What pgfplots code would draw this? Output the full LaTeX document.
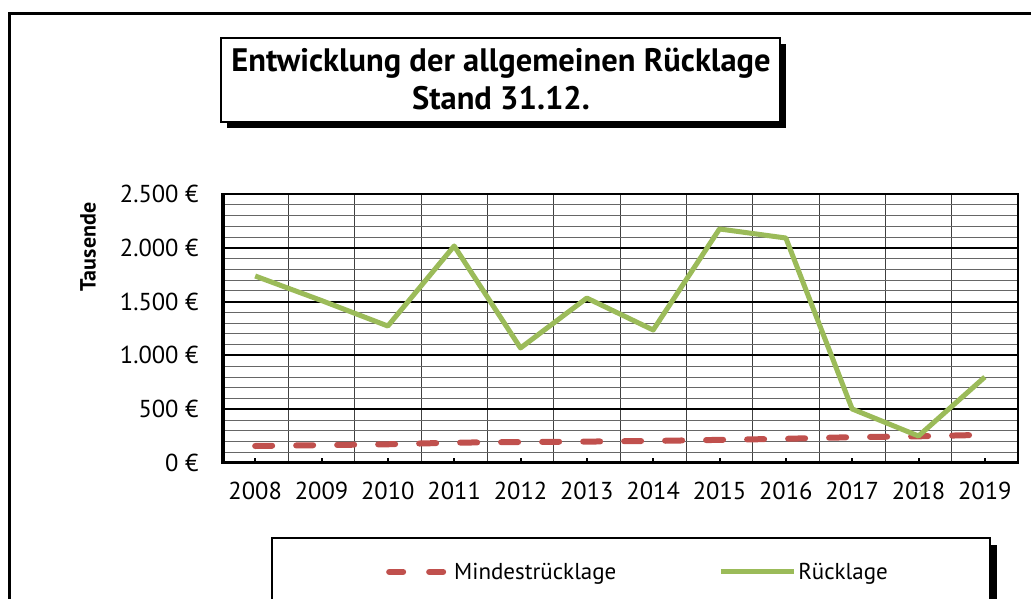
\documentclass[border=0pt]{standalone}
\usepackage{fontspec}
\setmainfont{PT Sans}
\usepackage{pgfplots}
\pgfplotsset{compat=1.18}
\definecolor{gruen}{RGB}{155,187,89}
\definecolor{rot}{RGB}{192,80,77}
\pgfplotsset{
  redleg/.style={legend image code/.code={\draw[##1, dash pattern=on 14pt off 26pt] (0pt,0pt) -- (60pt,0pt);}},
  greenleg/.style={legend image code/.code={\draw[##1] (0pt,0pt) -- (73pt,0pt);}},
}

\begin{document}
\begin{tikzpicture}
\path[use as bounding box, clip] (0pt,0pt) rectangle (1031pt,-599pt);
% outer frame
\draw[line width=3pt] (9pt,-700pt) -- (9pt,-14pt) -- (1100pt,-14pt);
% title box with shadow
\fill[black] (227pt,-44pt) rectangle (786pt,-128pt);
\draw[line width=1.5pt, fill=white] (221pt,-38pt) rectangle (780pt,-122pt);
\node[align=center, font=\bfseries\fontsize{32.5}{38}\selectfont] at (501pt,-79pt) {Entwicklung der allgemeinen Rücklage\\Stand 31.12.};
% legend box with shadow
\fill[black] (278pt,-545pt) rectangle (997pt,-700pt);
\draw[line width=1.5pt, fill=white] (272pt,-538pt) rectangle (990pt,-700pt);
% y label
\node[rotate=90, font=\bfseries\fontsize{22}{26}\selectfont] at (88pt,-247pt) {Tausende};

\begin{axis}[
  at={(222pt,-463pt)}, anchor=south west,
  scale only axis, width=796pt, height=269pt,
  xmin=-0.5, xmax=11.5, ymin=0, ymax=2500,
  axis line style={black, line width=2.5pt},
  xtick={0,...,11},
  xticklabels={2008,2009,2010,2011,2012,2013,2014,2015,2016,2017,2018,2019},
  minor xtick={0.5,1.5,...,10.5},
  xminorgrids, minor x grid style={black!75, line width=0.8pt},
  ytick={0,500,...,2500},
  ymajorgrids, major y grid style={black, line width=2pt},
  minor ytick={100,200,...,2400},
  yminorgrids, minor y grid style={black!60, line width=0.8pt},
  tick align=inside, xtick pos=left, ytick pos=left,
  major tick style={black, line width=2pt}, major tick length=5pt,
  minor tick length=0pt,
  ticklabel style={font=\fontsize{24.5}{28}\selectfont},
  xticklabel style={yshift=-16pt},
  yticklabel style={xshift=-20pt},
  yticklabel={\pgfmathprintnumber{\tick}~€},
  /pgf/number format/.cd, 1000 sep={.}, assume math mode=true,
  /pgfplots/.cd,
  legend columns=2,
  legend style={draw=none, fill=none, at={(0.5226,-0.405)}, anchor=center,
    font=\fontsize{23}{26}\selectfont,
    /tikz/every even column/.append style={column sep=100pt}},
]
\addplot[rot, line width=6pt, dash pattern=on 17pt off 24pt, line cap=round, redleg]
  coordinates {(0,158)(1,166)(2,174)(3,189)(4,195)(5,199)(6,205)(7,215)(8,225)(9,240)(10,248)(11,262)};
\addlegendentry{Mindestrücklage}
\addplot[gruen, line width=5pt, line join=round, greenleg]
  coordinates {(0,1738)(1,1510)(2,1273)(3,2017)(4,1069)(5,1533)(6,1236)(7,2175)(8,2091)(9,502)(10,251)(11,799)};
\addlegendentry{Rücklage}
\draw[line width=5pt] (rel axis cs:0,1) -- (rel axis cs:0,0) -- (rel axis cs:1,0);
\end{axis}
\end{tikzpicture}
\end{document}
